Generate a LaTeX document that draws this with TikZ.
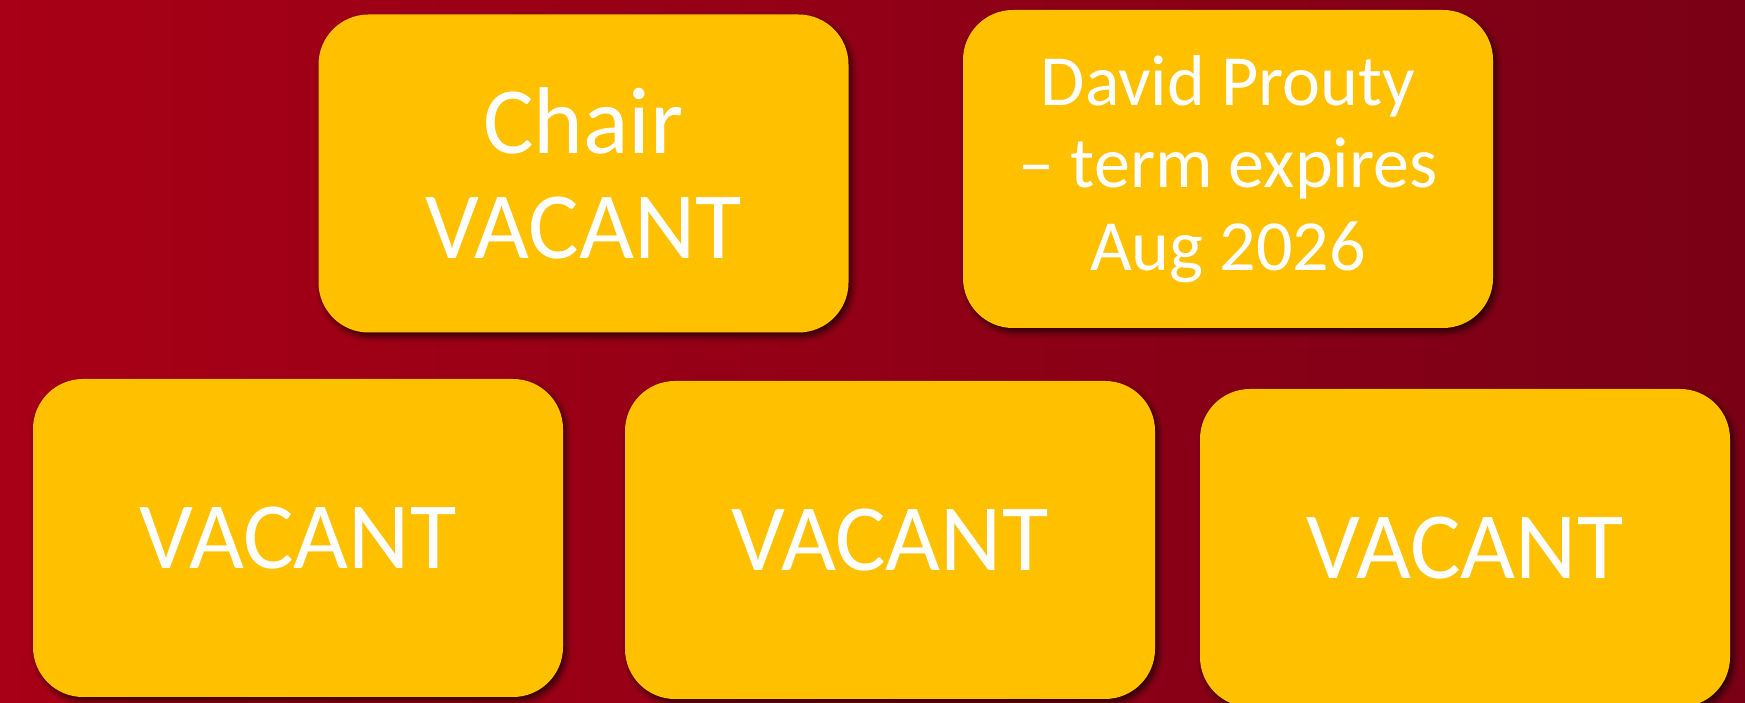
\documentclass[tikz,border=0pt]{standalone}
\usepackage{fontspec}
\setmainfont{Carlito}
\usetikzlibrary{shadows.blur}

\definecolor{fondgauche}{RGB}{168,0,22}
\definecolor{fonddroite}{RGB}{122,0,22}
\definecolor{jaune}{RGB}{255,192,0}

\tikzset{
  poste/.style={rectangle, rounded corners=1cm, fill=jaune, text=white,
    minimum width=10.6cm, minimum height=6.36cm, align=center,
    font=\fontsize{54}{60}\selectfont,
    blur shadow={shadow xshift=0.06cm, shadow yshift=-0.08cm,
      shadow blur radius=0.12cm, shadow opacity=70}}
}

\begin{document}
\begin{tikzpicture}
\useasboundingbox (0,0) rectangle (34.9,14.06);
\fill[left color=fondgauche, right color=fonddroite] (0,0) rectangle (34.9,14.06);
\node[poste] (chair) at (11.67,10.59) {Chair\\VACANT};
\node[poste, font=\fontsize{41}{47}\selectfont] (membre1) at (24.56,10.68) {David Prouty\\– term expires\\Aug 2026}; % seul poste occupé
\node[poste] (vacant1) at (5.96,3.30) {VACANT};
\node[poste] (vacant2) at (17.80,3.26) {VACANT};
\node[poste] (vacant3) at (29.30,3.10) {VACANT};
\end{tikzpicture}
\end{document}
